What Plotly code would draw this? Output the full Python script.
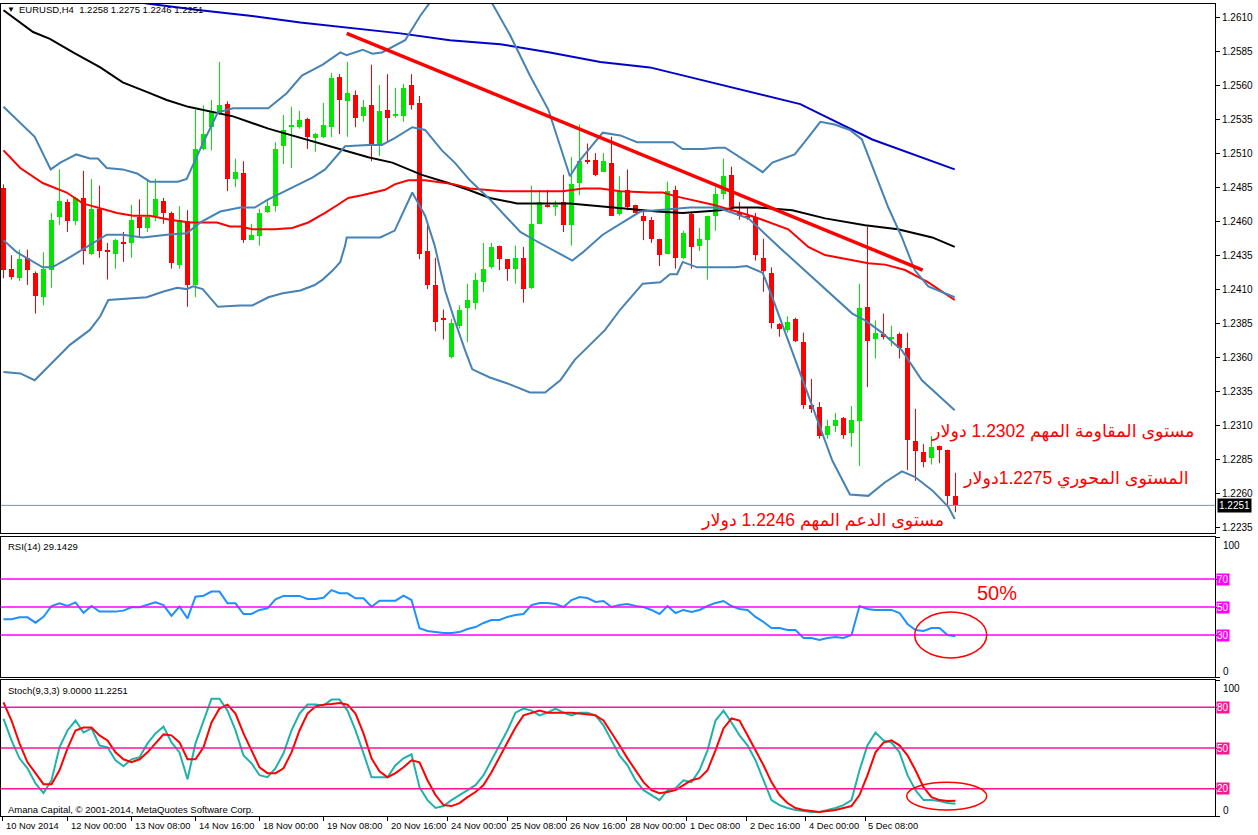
import plotly.graph_objects as go

W, H = 1258, 835

# ---------------- data ----------------
opens = [1.2484, 1.2425, 1.2418, 1.2433, 1.2422, 1.2404, 1.2424, 1.2463, 1.2474, 1.2460,
         1.2477, 1.2436, 1.2469, 1.2439, 1.2436, 1.2445, 1.2444, 1.2463, 1.2455, 1.2464,
         1.2475, 1.2466, 1.2428, 1.2460, 1.2413, 1.2513, 1.2529, 1.2539, 1.2546, 1.2491,
         1.2495, 1.2446, 1.2449, 1.2467, 1.2471, 1.2515, 1.2529, 1.2529, 1.2535, 1.2521,
         1.2522, 1.2529, 1.2566, 1.2548, 1.2553, 1.2537, 1.2545, 1.2516, 1.2542, 1.2537,
         1.2537, 1.2560, 1.2547, 1.2438, 1.2413, 1.2389, 1.2360, 1.2383, 1.2396, 1.2400,
         1.2415, 1.2426, 1.2442, 1.2432, 1.2425, 1.2433, 1.2411, 1.2458, 1.2472, 1.2471,
         1.2474, 1.2457, 1.2488, 1.2505, 1.2505, 1.2496, 1.2503, 1.2465, 1.2483, 1.2472,
         1.2464, 1.2461, 1.2447, 1.2436, 1.2483, 1.2433, 1.2465, 1.2442, 1.2446, 1.2464,
         1.2480, 1.2494, 1.2467, 1.2464, 1.2463, 1.2433, 1.2422, 1.2384, 1.2380, 1.2388,
         1.2371, 1.2325, 1.2323, 1.2303, 1.2309, 1.2315, 1.2304, 1.2313, 1.2397, 1.2373,
         1.2377, 1.2373, 1.2377, 1.2367, 1.2298, 1.2290, 1.2286, 1.2295, 1.2292, 1.2258]
highs = [1.2487, 1.2435, 1.2439, 1.2439, 1.2423, 1.2437, 1.2466, 1.2498, 1.2476, 1.2478,
         1.2497, 1.2491, 1.2486, 1.2444, 1.2447, 1.2452, 1.2472, 1.2476, 1.2491, 1.2491,
         1.2477, 1.2467, 1.2471, 1.2468, 1.2542, 1.2545, 1.2549, 1.2577, 1.2548, 1.2506,
         1.2504, 1.2458, 1.2469, 1.2476, 1.2518, 1.2538, 1.2544, 1.2541, 1.2536, 1.2525,
         1.2547, 1.2569, 1.2568, 1.2577, 1.2556, 1.2549, 1.2575, 1.2560, 1.2568, 1.2558,
         1.2561, 1.2568, 1.2552, 1.2458, 1.2433, 1.2395, 1.2388, 1.2398, 1.2414, 1.2422,
         1.2444, 1.2444, 1.2442, 1.2432, 1.2442, 1.2441, 1.2486, 1.2483, 1.2483, 1.2475,
         1.2494, 1.2507, 1.2531, 1.2517, 1.2510, 1.2510, 1.2522, 1.2493, 1.2498, 1.2472,
         1.2467, 1.2463, 1.2447, 1.2489, 1.2486, 1.2453, 1.2466, 1.2455, 1.2464, 1.2485,
         1.2506, 1.2500, 1.2474, 1.2470, 1.2466, 1.2447, 1.2426, 1.2385, 1.2390, 1.2389,
         1.2378, 1.2344, 1.2327, 1.2314, 1.2319, 1.2316, 1.2324, 1.2414, 1.2456, 1.2387,
         1.2392, 1.2383, 1.2378, 1.2378, 1.2322, 1.2296, 1.2302, 1.2295, 1.2292, 1.2275]
lows = [1.2418, 1.2417, 1.2416, 1.2413, 1.2392, 1.2398, 1.2411, 1.2457, 1.2452, 1.2457,
        1.2428, 1.2435, 1.2433, 1.2417, 1.2425, 1.2430, 1.2433, 1.2449, 1.2452, 1.2460,
        1.2458, 1.2425, 1.2425, 1.2397, 1.2404, 1.2512, 1.2512, 1.2538, 1.2482, 1.2485,
        1.2444, 1.2446, 1.2442, 1.2466, 1.2467, 1.2502, 1.2499, 1.2528, 1.2513, 1.2511,
        1.2521, 1.2522, 1.2524, 1.2522, 1.2529, 1.2533, 1.2504, 1.2508, 1.2518, 1.2536,
        1.2533, 1.2542, 1.2432, 1.2410, 1.2379, 1.2373, 1.2359, 1.2381, 1.2371, 1.2395,
        1.2408, 1.2425, 1.2424, 1.2416, 1.2414, 1.2400, 1.2410, 1.2458, 1.2470, 1.2464,
        1.2452, 1.2442, 1.2479, 1.2502, 1.2493, 1.2496, 1.2464, 1.2464, 1.2468, 1.2466,
        1.2446, 1.2444, 1.2427, 1.2436, 1.2425, 1.2432, 1.2425, 1.2438, 1.2417, 1.2453,
        1.2476, 1.2467, 1.2461, 1.2461, 1.2431, 1.2408, 1.2381, 1.2375, 1.2378, 1.2371,
        1.2322, 1.2319, 1.2300, 1.2300, 1.2305, 1.2300, 1.2294, 1.2280, 1.2338, 1.2359,
        1.2373, 1.2368, 1.2359, 1.2277, 1.2269, 1.2279, 1.2281, 1.2282, 1.2251, 1.2246]
closes = [1.2424, 1.2419, 1.2432, 1.2424, 1.2405, 1.2425, 1.2461, 1.2475, 1.2460, 1.2477,
          1.2438, 1.2469, 1.2438, 1.2438, 1.2446, 1.2443, 1.2461, 1.2455, 1.2463, 1.2476,
          1.2466, 1.2429, 1.2461, 1.2413, 1.2513, 1.2524, 1.2541, 1.2545, 1.2491, 1.2496,
          1.2446, 1.2450, 1.2466, 1.2471, 1.2513, 1.2527, 1.2531, 1.2534, 1.2522, 1.2524,
          1.2531, 1.2565, 1.2549, 1.2554, 1.2536, 1.2544, 1.2516, 1.2541, 1.2536, 1.2539,
          1.2558, 1.2545, 1.2436, 1.2413, 1.2386, 1.2388, 1.2385, 1.2395, 1.2402, 1.2417,
          1.2425, 1.2441, 1.2432, 1.2425, 1.2433, 1.2410, 1.2458, 1.2474, 1.2470, 1.2472,
          1.2457, 1.2487, 1.2504, 1.2504, 1.2494, 1.2504, 1.2464, 1.2482, 1.2470, 1.2466,
          1.2460, 1.2447, 1.2435, 1.2482, 1.2433, 1.2451, 1.2441, 1.2447, 1.2464, 1.2480,
          1.2493, 1.2470, 1.2464, 1.2463, 1.2435, 1.2423, 1.2385, 1.2381, 1.2386, 1.2372,
          1.2325, 1.2322, 1.2302, 1.2309, 1.2314, 1.2303, 1.2314, 1.2396, 1.2372, 1.2378,
          1.2375, 1.2375, 1.2367, 1.2299, 1.2291, 1.2283, 1.2294, 1.2292, 1.2258, 1.2251]
bar_idx = list(range(len(opens)))

# indicator lines (bar index, price)
bb_upper_x = [0, 3.9, 5.9, 7.1, 9.1, 10.8, 11.8, 12.9, 14.9, 16.7, 18.3, 21.8, 22.9, 24.9, 26.8, 28.7,
              33.1, 35.4, 37.3, 39.9, 42.1, 42.9, 44.9, 46.1, 47.3, 50.2, 52.1, 53.6, 55.8, 58.3,
              60.8, 63.3, 65.8, 68.1, 70.8, 72.1, 74.9, 77.1, 79.2, 83.7, 84.9, 87.4, 89.2, 90.2,
              93.1, 94.9, 96.1, 98.9, 100.4, 102.1, 103.9, 105.8, 107.3, 110.6, 112.3, 113.9, 115.6, 118.9]
bb_upper_y = [1.2544, 1.2522, 1.2498, 1.2503, 1.2509, 1.2506, 1.2506, 1.2499, 1.2498, 1.2495, 1.2489,
              1.2489, 1.2491, 1.2517, 1.2540, 1.2543, 1.2543, 1.2554, 1.2567, 1.2575, 1.2584, 1.2582,
              1.2586, 1.2583, 1.2584, 1.2593, 1.2611, 1.2623, 1.2645, 1.2641, 1.2623, 1.2597, 1.2567,
              1.2542, 1.2493, 1.2505, 1.2525, 1.2523, 1.2518, 1.2518, 1.2513, 1.2513, 1.2514, 1.2514,
              1.2503, 1.2496, 1.2503, 1.2509, 1.2520, 1.2533, 1.2531, 1.2527, 1.2520, 1.2470, 1.2448,
              1.2424, 1.2412, 1.2404]
bb_mid_x = [0, 1.7, 4.9, 6.1, 7.9, 9.8, 11.7, 12.9, 14.9, 17.4, 20.4, 22.9, 24.6, 27.1, 29.6, 31.4,
            33.1, 35.6, 38.6, 40.2, 41.8, 42.7, 45.6, 47.3, 48.9, 51.1, 52.7, 54.8, 56.4, 58.3, 60.8,
            64.6, 66.7, 69.2, 71.1, 72.4, 74.9, 77.4, 79.6, 81.7, 85.8, 89.2, 93.1, 97.3, 101.4,
            106.1, 107.7, 109.8, 112.3, 114.8, 118.9]
bb_mid_y = [1.2446, 1.2437, 1.2426, 1.2426, 1.2432, 1.2439, 1.2446, 1.2450, 1.2450, 1.2448, 1.2450,
            1.2451, 1.2459, 1.2467, 1.2470, 1.2470, 1.2476, 1.2483, 1.2492, 1.2498, 1.2509, 1.2515,
            1.2516, 1.2516, 1.2521, 1.2529, 1.2527, 1.2512, 1.2503, 1.2490, 1.2476, 1.2452, 1.2445,
            1.2437, 1.2431, 1.2437, 1.2450, 1.2459, 1.2467, 1.2468, 1.2470, 1.2470, 1.2462, 1.2439,
            1.2417, 1.2392, 1.2387, 1.2378, 1.2365, 1.2343, 1.2321]
bb_low_x = [0, 2.1, 3.9, 5.8, 8.3, 10.8, 12.1, 13.1, 16.2, 17.9, 19.9, 21.7, 22.9, 23.7, 24.9, 26.8,
            29.6, 31.1, 33.1, 34.9, 37.1, 38.9, 39.9, 41.2, 42.1, 42.7, 42.9, 47.1, 48.9, 51.1, 52.7,
            53.9, 55.2, 56.4, 57.7, 58.6, 60.8, 63.3, 65.8, 67.7, 69.6, 71.4, 73.3, 75.2, 77.1, 79.9,
            82.1, 83.3, 84.2, 84.9, 86.7, 89.6, 91.4, 92.9, 94.9, 96.1, 99.3, 101.4, 103.6, 105.8,
            108.1, 110.2, 112.3, 113.9, 116.1, 118.1, 118.9]
bb_low_y = [1.2349, 1.2348, 1.2343, 1.2354, 1.2369, 1.2380, 1.2390, 1.2402, 1.2403, 1.2404, 1.2408,
            1.2411, 1.2410, 1.2412, 1.2410, 1.2397, 1.2398, 1.2398, 1.2404, 1.2407, 1.2409, 1.2413,
            1.2417, 1.2424, 1.2430, 1.2442, 1.2448, 1.2448, 1.2453, 1.2481, 1.2464, 1.2442, 1.2409,
            1.2387, 1.2365, 1.2351, 1.2345, 1.2340, 1.2334, 1.2334, 1.2343, 1.2358, 1.2369, 1.2380,
            1.2395, 1.2414, 1.2415, 1.2421, 1.2421, 1.2430, 1.2426, 1.2426, 1.2426, 1.2427, 1.2422,
            1.2404, 1.2353, 1.2319, 1.2284, 1.2259, 1.2258, 1.2268, 1.2276, 1.2272, 1.2262, 1.2250,
            1.2241]
ma_red_x = [0, 2.1, 4.9, 7.9, 9.9, 11.7, 14.2, 16.2, 18.3, 20.8, 23.3, 26.7, 28.3, 29.6, 31.1, 33.9,
            36.1, 38.1, 40.2, 41.8, 43.1, 44.8, 46.1, 47.7, 48.9, 50.6, 52.7, 54.8, 56.4, 58.3, 62.4,
            69.9, 72.4, 74.6, 77.1, 80.8, 82.4, 84.2, 85.8, 88.7, 91.1, 93.9, 98.1, 100.6, 102.7,
            105.6, 108.1, 110.2, 112.7, 115.6, 118.9]
ma_red_y = [1.2512, 1.2499, 1.2488, 1.2481, 1.2473, 1.2470, 1.2466, 1.2464, 1.2464, 1.2461, 1.2459,
            1.2459, 1.2456, 1.2456, 1.2454, 1.2454, 1.2455, 1.2459, 1.2466, 1.2472, 1.2477, 1.2479,
            1.2481, 1.2483, 1.2487, 1.2490, 1.2490, 1.2488, 1.2487, 1.2484, 1.2482, 1.2482, 1.2484,
            1.2484, 1.2482, 1.2481, 1.2481, 1.2478, 1.2476, 1.2472, 1.2468, 1.2463, 1.2454, 1.2441,
            1.2435, 1.2432, 1.2429, 1.2428, 1.2424, 1.2415, 1.2402]
ma_black_x = [0, 3.7, 5.8, 8.7, 12.1, 14.9, 17.9, 20.4, 23.1, 26.2, 28.7, 33.1, 37.3, 41.4, 45.6,
              48.6, 50.2, 52.3, 55.6, 58.1, 60.8, 64.2, 70.8, 75.8, 78.3, 81.7, 84.9, 87.4, 89.6,
              91.4, 94.3, 98.6, 102.7, 107.7, 111.8, 116.1, 118.9]
ma_black_y = [1.2615, 1.2599, 1.2594, 1.2584, 1.2573, 1.2562, 1.2555, 1.2549, 1.2544, 1.2540,
              1.2537, 1.2528, 1.2521, 1.2514, 1.2507, 1.2503, 1.2499, 1.2494, 1.2488, 1.2483,
              1.2477, 1.2473, 1.2473, 1.2470, 1.2469, 1.2467, 1.2466, 1.2467, 1.2468, 1.2470,
              1.2470, 1.2468, 1.2462, 1.2457, 1.2454, 1.2448, 1.2441]
ma_blue_x = [15.0, 17.9, 24.6, 30.8, 37.1, 43.3, 49.6, 55.8, 62.1, 68.3, 74.6, 80.8, 87.1, 93.3,
             99.6, 102.7, 108.6, 118.9]
ma_blue_y = [1.2623, 1.2620, 1.2615, 1.2611, 1.2606, 1.2602, 1.2598, 1.2593, 1.2590, 1.2584,
             1.2577, 1.2573, 1.2564, 1.2555, 1.2546, 1.2537, 1.2520, 1.2498]
trend_x = [42.9, 114.9]
trend_y = [1.2598, 1.2424]

rsi = [41.2, 41.2, 42.6, 42.6, 38.8, 43.0, 50.7, 52.6, 50.7, 53.3,
       45.9, 50.7, 46.7, 46.7, 46.7, 47.4, 49.8, 49.8, 51.4, 53.3,
       51.4, 43.6, 50.2, 41.9, 57.4, 58.1, 61.0, 61.0, 52.6, 52.6,
       45.0, 45.0, 47.9, 49.0, 55.5, 57.9, 57.9, 57.9, 55.7, 55.7,
       56.6, 62.1, 59.8, 59.8, 56.2, 56.2, 50.2, 54.5, 54.5, 54.5,
       58.1, 55.0, 34.8, 32.9, 32.1, 31.4, 31.4, 32.1, 34.3, 35.7,
       38.6, 40.7, 40.7, 42.9, 44.3, 45.0, 51.4, 52.9, 52.9, 52.1,
       50.0, 55.0, 57.1, 56.4, 53.6, 54.3, 50.0, 51.4, 52.1, 50.7,
       50.0, 47.9, 45.0, 50.7, 45.7, 47.9, 46.4, 47.9, 50.7, 52.9,
       54.3, 50.7, 48.6, 47.9, 42.9, 39.3, 35.0, 35.0, 33.6, 33.6,
       27.9, 27.9, 26.4, 27.9, 28.6, 27.9, 30.0, 50.7, 48.6, 47.9,
       47.9, 47.9, 45.7, 37.9, 33.6, 32.9, 35.0, 35.0, 30.0, 29.1]
stoch_main = [71.5, 55.6, 42.4, 35.0, 24.0, 16.8, 26.3, 50.5, 62.9, 70.2,
              61.4, 64.4, 51.9, 50.5, 41.0, 36.6, 41.7, 43.2, 53.4, 60.7,
              65.8, 54.1, 46.8, 27.0, 53.4, 70.2, 86.3, 86.3, 77.5, 62.9,
              44.6, 38.8, 30.0, 28.5, 35.1, 46.1, 62.9, 75.3, 81.9, 81.9,
              81.2, 85.6, 85.6, 77.5, 62.9, 46.1, 28.5, 28.5, 28.5, 37.3,
              42.4, 45.4, 21.2, 11.7, 5.9, 7.3, 11.7, 15.4, 19.0, 22.7,
              30.0, 41.0, 52.0, 63.0, 76.0, 79.0, 77.5, 74.0, 76.0, 79.0,
              76.0, 74.0, 76.0, 76.0, 74.0, 66.6, 55.6, 44.6, 37.3, 26.3,
              19.0, 15.4, 11.7, 19.0, 20.5, 26.3, 24.9, 33.6, 48.3, 70.2,
              77.5, 68.8, 59.3, 52.0, 41.0, 26.3, 11.7, 8.0, 5.9, 4.4,
              3.7, 2.9, 2.9, 4.4, 5.9, 8.0, 11.7, 33.6, 52.0, 61.4,
              55.6, 54.0, 46.8, 30.0, 19.0, 11.7, 11.7, 11.0, 9.5, 9.0]
stoch_signal = [83.6, 70.2, 53.4, 39.5, 31.5, 23.4, 23.4, 33.6, 49.7, 62.9,
                65.1, 65.1, 59.3, 55.6, 46.8, 41.7, 39.5, 41.7, 46.8, 53.4,
                60.0, 59.3, 54.1, 41.7, 41.7, 50.5, 68.8, 79.0, 81.9, 75.3,
                60.7, 48.3, 35.8, 31.5, 31.5, 35.1, 46.8, 62.9, 75.3, 80.5,
                81.9, 82.4, 83.1, 81.9, 75.3, 60.7, 42.4, 32.9, 28.5, 31.5,
                35.8, 41.0, 39.5, 26.3, 15.4, 8.0, 7.3, 9.5, 13.9, 17.6,
                22.7, 32.2, 43.2, 54.0, 65.1, 74.0, 76.0, 77.5, 76.0, 76.0,
                76.0, 76.0, 75.3, 74.6, 74.0, 70.2, 61.4, 52.0, 42.4, 33.6,
                24.9, 19.0, 16.8, 17.6, 19.0, 22.7, 26.3, 27.8, 33.6, 48.3,
                64.4, 71.7, 70.2, 59.3, 48.3, 37.3, 24.9, 15.4, 9.5, 5.9,
                4.4, 3.7, 2.9, 3.7, 4.4, 5.9, 7.3, 15.4, 30.0, 46.8,
                54.0, 55.6, 52.0, 44.6, 33.6, 21.2, 13.9, 11.7, 11.0, 11.2]

price_ticks = [1.2235, 1.2260, 1.2285, 1.2310, 1.2335, 1.2360, 1.2385, 1.2410,
               1.2435, 1.2460, 1.2485, 1.2510, 1.2535, 1.2560, 1.2585, 1.2610]
rsi_levels = [70, 50, 30]
stoch_levels = [80, 50, 20]
time_tick_pos = [-0.1, 8, 16, 24, 32, 40, 48, 55.5, 63, 70.4, 77.9, 85.4, 92.9, 100.3, 107.7]
time_tick_labels = ["10 Nov 2014", "12 Nov 00:00", "13 Nov 08:00", "14 Nov 16:00", "18 Nov 00:00",
                    "19 Nov 08:00", "20 Nov 16:00", "24 Nov 00:00", "25 Nov 08:00", "26 Nov 16:00",
                    "28 Nov 00:00", "1 Dec 08:00", "2 Dec 16:00", "4 Dec 00:00", "5 Dec 08:00"]

# ---------------- layout helpers ----------------
def fx(px):
    return px / W

def fy(py):
    return 1 - py / H

X_DOM = [fx(1), fx(1215)]
X_RANGE = [(1 - 3.5) / 8, (1215 - 3.5) / 8]
Y_MAIN = [fy(533), fy(4)]
Y_RSI = [fy(677), fy(537)]
Y_STO = [fy(816), fy(680)]
MAIN_RANGE = [1.22307, 1.26196]

GREEN = "#00E600"
RED = "#FF0000"
STEEL = "#4682B4"
FONT = "Liberation Sans, Arial, DejaVu Sans"

fig = go.Figure()

# candles: wicks + bodies
for up, col in ((True, GREEN), (False, RED)):
    wx, wy = [], []
    bx, bb, bh = [], [], []
    for i in bar_idx:
        if (closes[i] > opens[i]) != up:
            continue
        wx += [i, i, None]
        wy += [lows[i], highs[i], None]
        lo = min(opens[i], closes[i])
        bx.append(i)
        bb.append(lo)
        bh.append(max(abs(closes[i] - opens[i]), 0.00008))
    fig.add_trace(go.Scatter(x=wx, y=wy, mode="lines", line=dict(color=col, width=1),
                             xaxis="x", yaxis="y", hoverinfo="skip", showlegend=False))
    fig.add_trace(go.Bar(x=bx, y=bh, base=bb, width=0.62, marker=dict(color=col, line=dict(width=0)),
                         xaxis="x", yaxis="y", showlegend=False))

def line(x, y, color, width, ax="x", ay="y"):
    fig.add_trace(go.Scatter(x=x, y=y, mode="lines", line=dict(color=color, width=width),
                             xaxis=ax, yaxis=ay, hoverinfo="skip", showlegend=False))

line(ma_blue_x, ma_blue_y, "#0000CC", 2)
line(ma_black_x, ma_black_y, "#000000", 2)
line(ma_red_x, ma_red_y, RED, 2)
line(bb_upper_x, bb_upper_y, STEEL, 2)
line(bb_mid_x, bb_mid_y, STEEL, 2)
line(bb_low_x, bb_low_y, STEEL, 2)
line(trend_x, trend_y, RED, 3.5)

# RSI
line(bar_idx, rsi, "#1E90FF", 2, "x2", "y2")
# Stochastic
line(bar_idx, stoch_main, "#20B2AA", 2, "x3", "y3")
line(bar_idx, stoch_signal, RED, 2, "x3", "y3")

shapes = []
shapes.append(dict(type="line", xref="x domain", yref="y", x0=0, x1=1, y0=closes[-1], y1=closes[-1],
                   line=dict(color="#7F8FA6", width=1)))
for lv in rsi_levels:
    shapes.append(dict(type="line", xref="x2 domain", yref="y2", x0=0, x1=1, y0=lv, y1=lv,
                       line=dict(color="#FF00FF", width=1.5)))
for lv in stoch_levels:
    shapes.append(dict(type="line", xref="x3 domain", yref="y3", x0=0, x1=1, y0=lv, y1=lv,
                       line=dict(color="#FF1493", width=1.5)))
shapes.append(dict(type="circle", xref="x2", yref="y2", x0=113.9, x1=122.9, y0=13.6, y1=46.4,
                   line=dict(color=RED, width=1.5)))
shapes.append(dict(type="circle", xref="x3", yref="y3", x0=112.9, x1=122.9, y0=4.4, y1=24.9,
                   line=dict(color=RED, width=1.5)))

ann = []
def text(x, y, s, size=9.5, color="black", xanchor="left", family=FONT, **kw):
    ann.append(dict(x=x, y=y, xref="paper", yref="paper", text=s, showarrow=False,
                    xanchor=xanchor, yanchor="middle", font=dict(size=size, color=color, family=family), **kw))

text(fx(5), fy(10), "▼", size=8)
text(fx(17), fy(10), "EURUSD,H4  %.4f %.4f %.4f %.4f" % (opens[-1], highs[-1], lows[-1], closes[-1]))
text(fx(6), fy(546), "RSI(14) %.4f" % 29.1429)
text(fx(6), fy(690), "Stoch(9,3,3) %.4f %.4f" % (9.0, 11.2251))
text(fx(6), fy(809), "Amana Capital, © 2001-2014, MetaQuotes Software Corp.")

ann.append(dict(x=fx(1217), y=closes[-1], xref="paper", yref="y", text="%.4f" % closes[-1],
                showarrow=False, xanchor="left", yanchor="middle", bgcolor="#000000",
                font=dict(size=10, color="white", family=FONT), borderpad=1))

text(fx(1221), fy(545), "100", size=10)
text(fx(1221), fy(671), "0", size=10)
text(fx(1221), fy(688), "100", size=10)
text(fx(1221), fy(810), "0", size=10)
for lv in rsi_levels:
    ann.append(dict(x=fx(1216), y=lv, xref="paper", yref="y2", text=str(lv), showarrow=False,
                    xanchor="left", yanchor="middle", bgcolor="#FF00FF",
                    font=dict(size=10, color="white", family=FONT), borderpad=0))
for lv in stoch_levels:
    ann.append(dict(x=fx(1216), y=lv, xref="paper", yref="y3", text=str(lv), showarrow=False,
                    xanchor="left", yanchor="middle", bgcolor="#FF1493",
                    font=dict(size=10, color="white", family=FONT), borderpad=0))

for p, s in zip(time_tick_pos, time_tick_labels):
    ann.append(dict(x=p, y=fy(826), xref="x3", yref="paper", text=s, showarrow=False,
                    xanchor="left", yanchor="middle", xshift=1,
                    font=dict(size=9.3, color="black", family=FONT)))

AR = "Liberation Sans, DejaVu Sans, Noto Sans"
text(fx(1196), fy(431), "\u202Bمستوى المقاومة المهم 1.2302 دولار\u202C", size=17.5, color=RED, xanchor="right", family=AR)
text(fx(1191), fy(479), "\u202Bالمستوى المحوري 1.2275دولار\u202C", size=17.5, color=RED, xanchor="right", family=AR)
text(fx(946), fy(520), "\u202Bمستوى الدعم المهم 1.2246 دولار\u202C", size=17.5, color=RED, xanchor="right", family=AR)
text(fx(975), fy(593), "50%", size=20, color=RED, family="Liberation Sans, Arial")

axis_common = dict(showgrid=False, zeroline=False, showline=True, mirror=True, linecolor="black",
                   linewidth=1)

fig.update_layout(
    width=W, height=H, margin=dict(l=0, r=0, t=0, b=0),
    paper_bgcolor="white", plot_bgcolor="white",
    barmode="overlay", bargap=0, showlegend=False,
    xaxis=dict(domain=X_DOM, range=X_RANGE, anchor="y", showticklabels=False, ticks="", **axis_common),
    xaxis2=dict(domain=X_DOM, range=X_RANGE, anchor="y2", showticklabels=False, ticks="", **axis_common),
    xaxis3=dict(domain=X_DOM, range=X_RANGE, anchor="y3", showticklabels=False, ticks="outside",
                tickvals=time_tick_pos, ticklen=4, tickcolor="black", **axis_common),
    yaxis=dict(domain=Y_MAIN, range=MAIN_RANGE, anchor="x", side="right", tickvals=price_ticks,
               ticktext=["%.4f" % v for v in price_ticks], ticks="outside", ticklen=4, tickcolor="black",
               tickfont=dict(size=10, color="black", family=FONT), **axis_common),
    yaxis2=dict(domain=Y_RSI, range=[0, 100], anchor="x2", side="right", showticklabels=False,
                tickvals=[100, 70, 50, 30, 0], ticks="outside", ticklen=4, tickcolor="black", **axis_common),
    yaxis3=dict(domain=Y_STO, range=[0, 100], anchor="x3", side="right", showticklabels=False,
                tickvals=[100, 80, 50, 20, 0], ticks="outside", ticklen=4, tickcolor="black", **axis_common),
    shapes=shapes, annotations=ann,
)

fig.write_html("out.html")
